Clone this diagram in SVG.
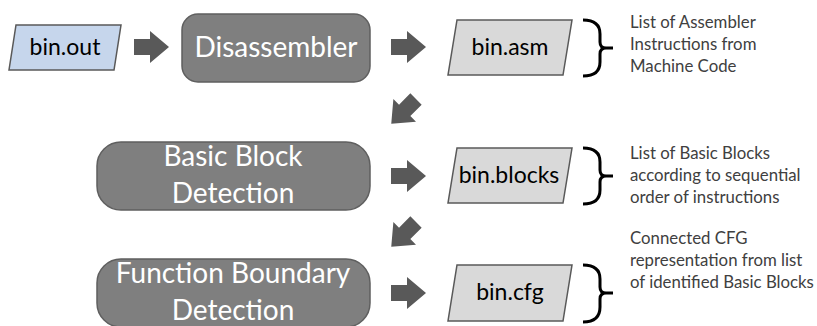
<svg xmlns="http://www.w3.org/2000/svg" width="817" height="326" viewBox="0 0 817 326">
<defs>
<style>
.proc{fill:#7f7f7f;stroke:#5f5f5f;stroke-width:1.5}
.data{fill:#d9d9d9;stroke:#595959;stroke-width:1.5}
.input{fill:#c6d6ec;stroke:#595959;stroke-width:1.5}
.ptxt{font-family:Lato,"Open Sans",sans-serif;font-size:28px;fill:#ffffff;text-anchor:middle}
.dtxt{font-family:Lato,"Open Sans",sans-serif;font-size:23px;fill:#000000;text-anchor:middle}
.note{font-family:Lato,"Open Sans",sans-serif;font-size:16.8px;fill:#404040}
.brace{fill:none;stroke:#000;stroke-width:3}
.arr{fill:#595959}
</style>
<path id="arrow" d="M0,-8 H16 V-16 L35,0 L16,16 V8 H0 Z"/>
</defs>

<g id="connectors">
<use href="#arrow" class="arr" transform="translate(134,47)"/>
<use href="#arrow" class="arr" transform="translate(391,47)"/>
<use href="#arrow" class="arr" transform="translate(416,99) rotate(135)"/>
<use href="#arrow" class="arr" transform="translate(391,176)"/>
<use href="#arrow" class="arr" transform="translate(416,222) rotate(135)"/>
<use href="#arrow" class="arr" transform="translate(391,293)"/>
</g>

<g id="bin_out">
<polygon class="input" points="16,25 121,25 114,70 9,70"/>
<text class="dtxt" x="65" y="55">bin.out</text>
</g>

<g id="disassembler">
<rect class="proc" x="182" y="14" width="188" height="68" rx="16"/>
<text class="ptxt" x="276" y="57">Disassembler</text>
</g>

<g id="bin_asm">
<polygon class="data" points="457,20 572,20 563,75 448,75"/>
<text class="dtxt" x="510" y="55">bin.asm</text>
</g>

<g id="note_asm">
<path class="brace" d="M583,20 Q600,20 600,34 V42 Q600,48 606,48 H613 M606,48 Q600,48 600,54 V62 Q600,76 583,76"/>
<text class="note"><tspan x="630" y="28">List of Assembler</tspan><tspan x="630" y="50">Instructions from</tspan><tspan x="630" y="72">Machine Code</tspan></text>
</g>

<g id="basic_block">
<rect class="proc" x="97" y="142" width="273" height="68" rx="24"/>
<text class="ptxt"><tspan x="233" y="166">Basic Block</tspan><tspan x="233" y="203">Detection</tspan></text>
</g>

<g id="bin_blocks">
<polygon class="data" points="457,148 572,148 563,203 448,203"/>
<text class="dtxt" x="509" y="183">bin.blocks</text>
</g>

<g id="note_blocks">
<path class="brace" d="M583,148 Q600,148 600,162 V170 Q600,176 606,176 H613 M606,176 Q600,176 600,182 V190 Q600,204 583,204"/>
<text class="note"><tspan x="630" y="159">List of Basic Blocks</tspan><tspan x="630" y="181">according to sequential</tspan><tspan x="630" y="203">order of instructions</tspan></text>
</g>

<g id="function_boundary">
<rect class="proc" x="97" y="259" width="273" height="68" rx="24"/>
<text class="ptxt"><tspan x="233" y="283">Function Boundary</tspan><tspan x="233" y="320">Detection</tspan></text>
</g>

<g id="bin_cfg">
<polygon class="data" points="457,265 572,265 563,321 448,321"/>
<text class="dtxt" x="510" y="300">bin.cfg</text>
</g>

<g id="note_cfg">
<path class="brace" d="M583,265 Q600,265 600,279 V287 Q600,293 606,293 H613 M606,293 Q600,293 600,299 V307 Q600,322 583,322"/>
<text class="note"><tspan x="630" y="244">Connected CFG</tspan><tspan x="630" y="266">representation from list</tspan><tspan x="630" y="288">of identified Basic Blocks</tspan></text>
</g>
</svg>
